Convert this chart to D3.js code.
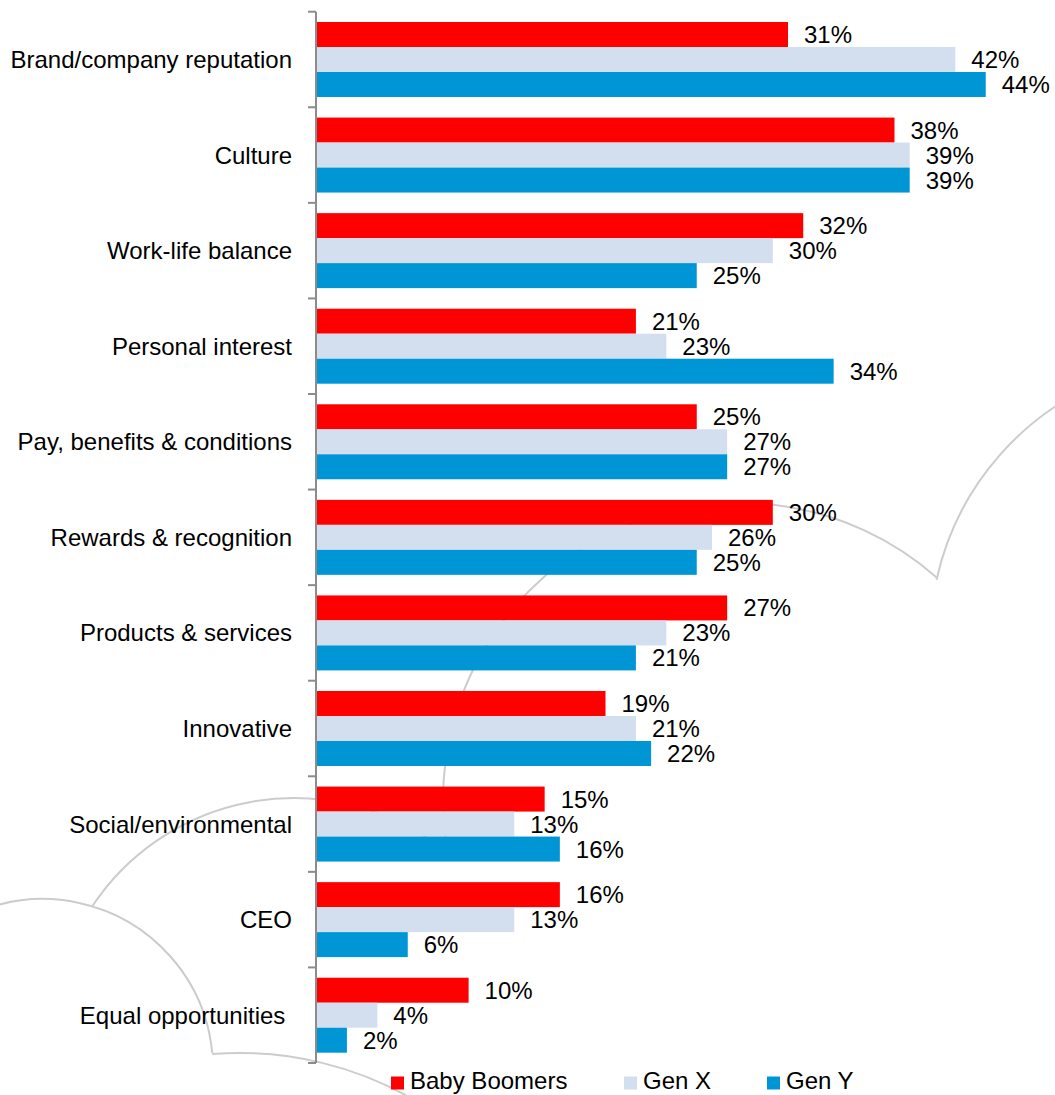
<!DOCTYPE html>
<html>
<head>
<meta charset="utf-8">
<script src="https://cdn.jsdelivr.net/npm/d3@7"></script>
<style>
  html, body { margin: 0; padding: 0; background: #ffffff; }
  svg { display: block; }
  text { font-family: "Liberation Sans", Arial, sans-serif; fill: #000; }
</style>
</head>
<body>
<div id="chart"></div>
<script>
// Reasons for choosing an employer, by generation (%)
const categories = [
  "Brand/company reputation",
  "Culture",
  "Work-life balance",
  "Personal interest",
  "Pay, benefits & conditions",
  "Rewards & recognition",
  "Products & services",
  "Innovative",
  "Social/environmental",
  "CEO",
  "Equal opportunities "
];
const seriesNames = ["Baby Boomers", "Gen X", "Gen Y"];
const babyBoomers = [31, 38, 32, 21, 25, 30, 27, 19, 15, 16, 10];
const genX        = [42, 39, 30, 23, 27, 26, 23, 21, 13, 13, 4];
const genY        = [44, 39, 25, 34, 27, 25, 21, 22, 16, 6, 2];
const seriesColors = ["#ff0000", "#d3dfee", "#0096d6"];

const W = 1055, H = 1095;
const svg = d3.select("#chart").append("svg")
  .attr("width", W).attr("height", H);

// Decorative cloud outline in the background (circle arcs, degrees)
const cloudArcs = [
  { cx: 43,   cy: 1069, r: 170, a0: -150,  a1: -5.4 },
  { cx: 294,  cy: 1040, r: 242, a0: -146.6, a1: -54 },
  { cx: 740,  cy: 800,  r: 297, a0: 172,   a1: 311.7 },
  { cx: 1210, cy: 640,  r: 280, a0: 192.4, a1: 250 },
  { cx: 240,  cy: 1400, r: 347, a0: 265.4, a1: 302 }
];
const rad = Math.PI / 180;
svg.append("g").selectAll("path")
  .data(cloudArcs)
  .join("path")
  .attr("d", d => {
    const p = d3.path();
    p.arc(d.cx, d.cy, d.r, d.a0 * rad, d.a1 * rad, false);
    return p.toString();
  })
  .attr("fill", "none")
  .attr("stroke", "#cccccc")
  .attr("stroke-width", 2);

// Scales
const x = d3.scaleLinear().domain([0, 50]).range([316.5, 316.5 + 15.21 * 50]);
const y = d3.scaleBand().domain(categories).range([11.7, 1063])
  .paddingInner(0.2155).paddingOuter(0.1078);
const ySub = d3.scaleBand().domain(seriesNames).range([0, y.bandwidth()]);

const seriesValues = [babyBoomers, genX, genY];
const rows = [];
categories.forEach((c, i) => {
  seriesNames.forEach((s, j) => {
    rows.push({ cat: c, series: s, value: seriesValues[j][i], color: seriesColors[j] });
  });
});

// Bars
svg.append("g").selectAll("rect")
  .data(rows)
  .join("rect")
  .attr("x", x(0))
  .attr("y", d => y(d.cat) + ySub(d.series))
  .attr("width", d => x(d.value) - x(0))
  .attr("height", ySub.bandwidth())
  .attr("fill", d => d.color);

// Value labels
svg.append("g").selectAll("text")
  .data(rows)
  .join("text")
  .attr("x", d => x(d.value) + 16)
  .attr("y", d => y(d.cat) + ySub(d.series) + ySub.bandwidth() / 2 + 8.5)
  .attr("font-size", 24)
  .text(d => d.value + "%");

// Category axis: vertical line with ticks between the groups
const axisX = 316;
const step = y.step();
const axisTop = y.range()[0];
const axis = svg.append("g");
axis.append("line")
  .attr("x1", axisX).attr("x2", axisX)
  .attr("y1", axisTop).attr("y2", axisTop + step * categories.length)
  .attr("stroke", "#8c8c8c").attr("stroke-width", 2);
axis.selectAll("line.tick")
  .data(d3.range(categories.length + 1))
  .join("line")
  .attr("class", "tick")
  .attr("x1", axisX - 8).attr("x2", axisX)
  .attr("y1", k => axisTop + k * step).attr("y2", k => axisTop + k * step)
  .attr("stroke", "#8c8c8c").attr("stroke-width", 2);

// Category labels
svg.append("g").selectAll("text")
  .data(categories)
  .join("text")
  .attr("x", 292)
  .attr("y", d => y(d) + y.bandwidth() / 2 + 8.5)
  .attr("text-anchor", "end")
  .attr("font-size", 24)
  .style("white-space", "pre")
  .text(d => d);

// Legend
const legendX = [391, 624, 767];
const legend = svg.append("g").selectAll("g")
  .data(seriesNames)
  .join("g")
  .attr("transform", (d, i) => `translate(${legendX[i]},1076.5)`);
legend.append("rect")
  .attr("width", 13).attr("height", 13)
  .attr("fill", (d, i) => seriesColors[i]);
legend.append("text")
  .attr("x", 19).attr("y", 12.5)
  .attr("font-size", 24)
  .text(d => d);
</script>
</body>
</html>
